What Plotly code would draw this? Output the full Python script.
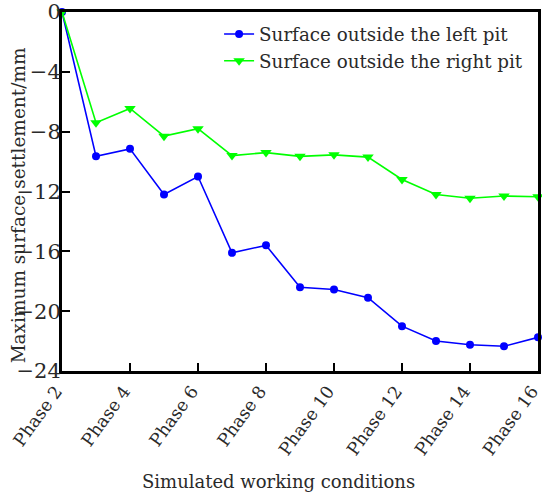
import plotly.graph_objects as go

phases = list(range(2, 17))
left_pit = [0, -9.65, -9.15, -12.2, -11.0, -16.1, -15.6, -18.4, -18.55, -19.1,
            -21.0, -22.0, -22.25, -22.35, -21.75]
right_pit = [0, -7.4, -6.45, -8.3, -7.8, -9.6, -9.4, -9.65, -9.55, -9.7,
             -11.2, -12.2, -12.45, -12.3, -12.35]
tick_phases = [2, 4, 6, 8, 10, 12, 14, 16]
tick_labels = [f"Phase {p}" for p in tick_phases]
y_ticks = [0, -4, -8, -12, -16, -20, -24]
y_tick_text = ["0", "\u22124", "\u22128", "\u221212", "\u221216", "\u221220", "\u221224"]

FONT = "DejaVu Serif"
TXT = "#2a2a2a"

fig = go.Figure()
fig.add_trace(go.Scatter(
    x=phases, y=left_pit, mode="lines+markers",
    name="Surface outside the left pit",
    line=dict(color="#0000ff", width=1.6),
    marker=dict(symbol="circle", size=8, color="#0000ff"),
    cliponaxis=False,
))
fig.add_trace(go.Scatter(
    x=phases, y=right_pit, mode="lines+markers",
    name="Surface outside the right pit",
    line=dict(color="#00ff00", width=1.6),
    marker=dict(symbol="triangle-down", size=10, color="#00ff00"),
    cliponaxis=False,
))

fig.update_layout(
    width=542, height=498,
    margin=dict(l=62, r=4, t=12, b=127, autoexpand=False),
    paper_bgcolor="white", plot_bgcolor="white",
    font=dict(family=FONT, size=20, color=TXT),
    showlegend=True,
    legend=dict(
        x=0.33, y=0.99, xanchor="left", yanchor="top",
        bgcolor="rgba(0,0,0,0)", borderwidth=0,
        font=dict(family=FONT, size=18.3, color=TXT),
        tracegroupgap=0, itemwidth=30,
    ),
    xaxis=dict(
        range=[2, 16], tickmode="array", tickvals=tick_phases, ticktext=tick_labels,
        tickangle=-54, ticks="inside", ticklen=8, tickwidth=2, tickcolor="black",
        showline=True, linecolor="black", linewidth=3, mirror=True,
        showgrid=False, zeroline=False, ticklabeloverflow="allow", automargin=False,
        ticklabelshift=-6,
        tickfont=dict(family=FONT, size=17.5, color=TXT),
    ),
    yaxis=dict(
        range=[-24, 0], tickmode="array", tickvals=y_ticks, ticktext=y_tick_text,
        ticks="inside", ticklen=8, tickwidth=2, tickcolor="black",
        showline=True, linecolor="black", linewidth=3, mirror=True,
        showgrid=False, zeroline=False, ticklabeloverflow="allow", automargin=False,
        ticklabelposition="outside", ticklabelstandoff=-6,
        tickfont=dict(family=FONT, size=21, color=TXT),
    ),
    annotations=[
        dict(text="Maximum surface settlement/mm", xref="paper", yref="paper",
             x=-0.092, y=0.462, xanchor="center", yanchor="middle", textangle=-90,
             showarrow=False, font=dict(family=FONT, size=18.5, color=TXT)),
        dict(text="Simulated working conditions", xref="paper", yref="paper",
             x=0.454, y=-0.309, xanchor="center", yanchor="middle",
             showarrow=False, font=dict(family=FONT, size=18, color=TXT)),
    ],
)

fig.write_html("out.html")
